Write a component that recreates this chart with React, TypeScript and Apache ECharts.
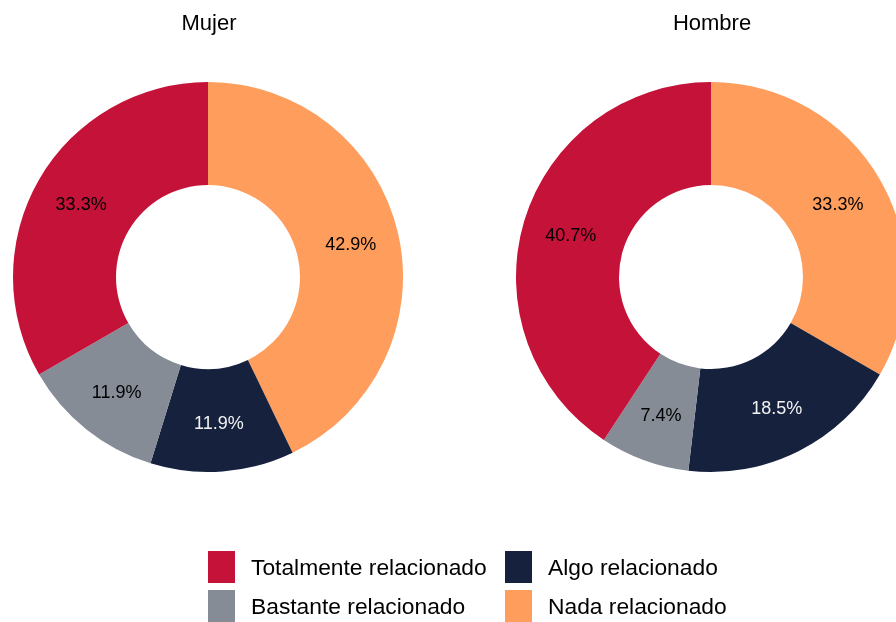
import React, { useEffect, useRef } from "react";
import * as echarts from "echarts";

const categories = ["Nada relacionado", "Algo relacionado", "Bastante relacionado", "Totalmente relacionado"];
const colors = ["#FF9D5C", "#15213D", "#858C96", "#C41239"];
const labelColors = ["#000000", "#F2F2F2", "#000000", "#000000"];
const mujerValues = [18, 5, 5, 14];
const hombreValues = [9, 5, 2, 11];
const groups = ["Mujer", "Hombre"];
const legendOrder = ["Totalmente relacionado", "Algo relacionado", "Bastante relacionado", "Nada relacionado"];

export default function App() {
  const ref = useRef<HTMLDivElement>(null);
  useEffect(() => {
    if (!ref.current) return;
    const chart = echarts.init(ref.current, undefined, { renderer: "svg" });
    const centersX = [208, 711];
    const cy = 277;
    const seriesVals = [mujerValues, hombreValues];
    const legendPos = [
      { left: 208, top: 551 },
      { left: 505, top: 551 },
      { left: 208, top: 590 },
      { left: 505, top: 590 },
    ];
    chart.setOption({
      animation: false,
      color: colors,
      title: groups.map((g, i) => ({
        text: g,
        left: centersX[i] + 1,
        top: 11,
        padding: 0,
        textAlign: "center",
        textStyle: { fontFamily: "Liberation Sans, Arial, sans-serif", fontSize: 22, fontWeight: "normal", color: "#000" },
      })),
      legend: legendOrder.map((name, i) => ({
        data: [name],
        left: legendPos[i].left,
        top: legendPos[i].top,
        padding: 0,
        itemWidth: 27,
        itemHeight: 32,
        icon: "rect",
        selectedMode: false,
        textStyle: { fontFamily: "Liberation Sans, Arial, sans-serif", fontSize: 22.8, color: "#000", padding: [0, 0, 0, 11] },
      })),
      series: seriesVals.map((vals, s) => ({
        type: "pie",
        name: groups[s],
        center: [centersX[s], cy],
        radius: [92, 195],
        startAngle: 90,
        clockwise: true,
        avoidLabelOverlap: false,
        itemStyle: { borderWidth: 0 },
        emphasis: { disabled: true },
        label: {
          position: "inside",
          fontFamily: "Liberation Sans, Arial, sans-serif",
          fontSize: 18,
          formatter: (p: any) => p.percent.toFixed(1) + "%",
        },
        labelLine: { show: false },
        data: categories.map((c, i) => ({
          name: c,
          value: vals[i],
          itemStyle: { color: colors[i] },
          label: { color: labelColors[i] },
        })),
      })),
    });
    return () => chart.dispose();
  }, []);
  return <div ref={ref} style={{ position: "fixed", left: 0, top: 0, width: 896, height: 622 }} />;
}
